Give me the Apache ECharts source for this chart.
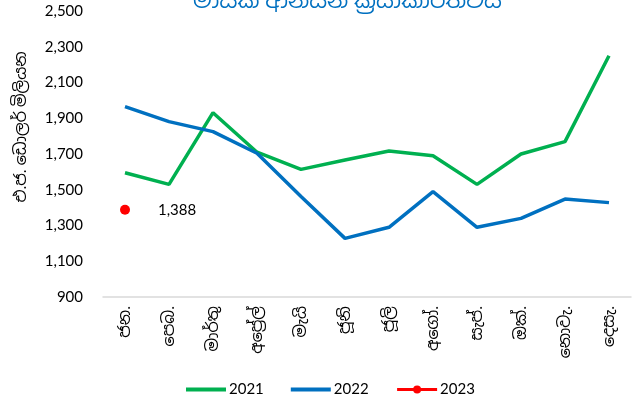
<!DOCTYPE html>
<html><head><meta charset="utf-8">
<script src="https://cdn.jsdelivr.net/npm/echarts@6/dist/echarts.min.js"></script>
<style>html,body{margin:0;padding:0;background:#fff}#c{width:635px;height:402px}</style>
</head><body><div id="c"></div>
<script>
const months = ['ජන.', 'පෙබ.', 'මාර්තු', 'අප්‍රේල්', 'මැයි', 'ජූනි', 'ජූලි', 'අගෝ.', 'සැප්.', 'ඔක්.', 'නොවැ.', 'දෙසැ.'];
const y2021 = [1595, 1530, 1931, 1710, 1614, 1666, 1717, 1690, 1530, 1700, 1769, 2250];
const y2022 = [1965, 1881, 1825, 1704, 1462, 1228, 1290, 1489, 1290, 1340, 1448, 1428];
const y2023 = [1388, null, null, null, null, null, null, null, null, null, null, null];
const titleText = 'මාසික ආනයන ක්‍රියාකාරීත්වය';
const yAxisName = 'එ.ජ. ඩොලර් මිලියන';
const font = 'Lato, "Noto Sans", "Noto Sans Sinhala", sans-serif';

const chart = echarts.init(document.getElementById('c'));
chart.setOption({
  animation: false,
  title: {
    text: titleText, left: 188, top: -15,
    textStyle: {color: '#0070C0', fontSize: 22, fontWeight: 'normal', fontFamily: font}
  },
  grid: {left: 103, right: 4, top: 11, bottom: 105},
  legend: {
    bottom: 0, left: 181, itemWidth: 40, itemHeight: 10, itemGap: 27,
    textStyle: {fontSize: 15, color: '#000', fontFamily: font, padding: [0, 0, 0, -2]},
    data: [
      {name: '2021', icon: 'path://M0,0 L40,0 L40,4 L0,4 Z'},
      {name: '2022', icon: 'path://M0,0 L40,0 L40,4 L0,4 Z'},
      {name: '2023', lineStyle: {width: 3}}
    ]
  },
  xAxis: {
    type: 'category', data: months, boundaryGap: true,
    axisLine: {lineStyle: {color: '#d9d9d9', width: 1.5}},
    axisTick: {show: false},
    axisLabel: {rotate: 90, color: '#000', fontSize: 16, fontFamily: font, margin: 9, interval: 0}
  },
  yAxis: {
    type: 'value', min: 900, max: 2500, interval: 200,
    name: yAxisName, nameLocation: 'middle', nameRotate: 90, nameGap: 74,
    nameTextStyle: {color: '#000', fontSize: 16, fontFamily: font, padding: [0, 0, 0, 54]},
    axisLine: {show: false}, axisTick: {show: false}, splitLine: {show: false},
    axisLabel: {color: '#000', fontSize: 15, fontFamily: font, margin: 20,
      formatter: v => v.toLocaleString('en-US')}
  },
  series: [
    {name: '2021', type: 'line', data: y2021, symbol: 'none', color: '#00B050',
      lineStyle: {width: 3.5, color: '#00B050'}},
    {name: '2022', type: 'line', data: y2022, symbol: 'none', color: '#0070C0',
      lineStyle: {width: 3.5, color: '#0070C0'}},
    {name: '2023', type: 'line', data: y2023, symbol: 'circle', symbolSize: 10, color: '#FF0000',
      itemStyle: {color: '#FF0000'}, lineStyle: {width: 3, color: '#FF0000'},
      label: {show: true, position: 'right', distance: 28, color: '#000', fontSize: 15, fontFamily: font,
        formatter: p => p.value.toLocaleString('en-US')}}
  ]
});
</script></body></html>
